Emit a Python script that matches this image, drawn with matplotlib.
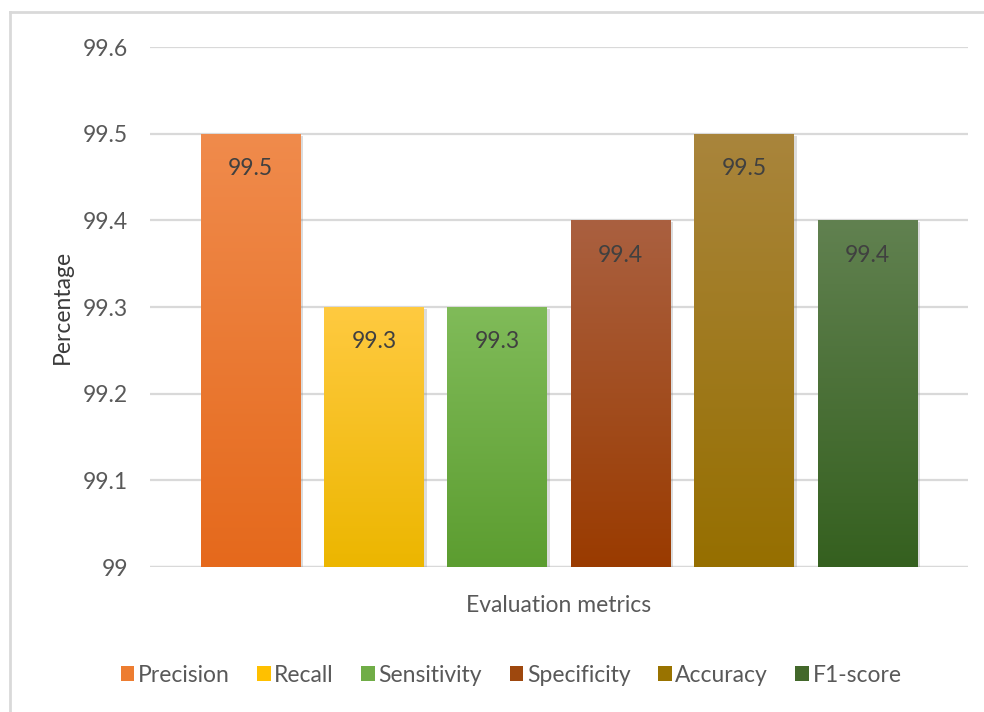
import numpy as np
import matplotlib
matplotlib.use("Agg")
import matplotlib.pyplot as plt
import matplotlib.patheffects as pe
from matplotlib.colors import to_rgb
from matplotlib.patches import Patch
from matplotlib.lines import Line2D

plt.rcParams['font.family'] = ['Lato', 'DejaVu Sans']

# Metric names and scores (%)
metrics = ["Precision", "Recall", "Sensitivity", "Specificity", "Accuracy", "F1-score"]
scores = [99.5, 99.3, 99.3, 99.4, 99.5, 99.4]
# Legend (solid) colours and gradient end colours for each bar
solid_colors = ["#ED7D31", "#FFC000", "#70AD47", "#9E480E", "#997300", "#43682B"]
grad_top = ["#F08B4C", "#FFCA40", "#80BB59", "#AA6040", "#A9853C", "#618150"]
grad_bottom = ["#E5691C", "#ECB600", "#5C9D30", "#9A3B00", "#966F00", "#35601F"]
yticks = [99.0, 99.1, 99.2, 99.3, 99.4, 99.5, 99.6]
ytick_labels = ["99", "99.1", "99.2", "99.3", "99.4", "99.5", "99.6"]

W, H = 984, 712
fig = plt.figure(figsize=(W / 100, H / 100), dpi=100)
ax = fig.add_axes([150 / W, 1 - 567 / H, (968 - 150) / W, (567 - 47) / H])

x = np.arange(len(metrics))
bar_w = 0.81
base = 99.0

for i, (v, c0, c1, cs) in enumerate(zip(scores, grad_top, grad_bottom, solid_colors)):
    bar = ax.bar(x[i], v - base, bottom=base, width=bar_w, color=cs, zorder=2,
                 label=metrics[i])[0]
    bar.set_path_effects([pe.SimplePatchShadow(offset=(2, -1.5), shadow_rgbFace=(0.55, 0.55, 0.55),
                                               alpha=0.3), pe.Normal()])
    top = np.array(to_rgb(c0))
    bot = np.array(to_rgb(c1))
    t = np.linspace(0, 1, 256)[:, None]
    grad = (top[None, :] * (1 - t) + bot[None, :] * t)[:, None, :]
    im = ax.imshow(grad, extent=[x[i] - bar_w / 2, x[i] + bar_w / 2, base, v],
                   aspect='auto', origin='upper', zorder=3, interpolation='bilinear')
    im.set_clip_path(bar)
    ax.annotate(f"{v:.1f}", xy=(x[i], v), xytext=(0, -25), textcoords='offset points',
                ha='center', va='center', fontsize=16.5, color='#404040', zorder=4)

half = (968 - 150) / 2 / 123.4
ax.set_xlim(2.5 - half, 2.5 + half)
ax.set_ylim(99.0, 99.6)
ax.set_yticks(yticks)
ax.set_yticklabels(ytick_labels)
ax.set_xticks([])
ax.tick_params(axis='y', length=0, pad=16, labelsize=16.5, labelcolor='#595959')
ax.grid(axis='y', color='#D9D9D9', linewidth=1.6, zorder=0)
ax.set_axisbelow(True)
for s in ax.spines.values():
    s.set_visible(False)
ax.axhline(99.0, color='#D9D9D9', linewidth=1.6, zorder=1)

ax.set_xlabel("Evaluation metrics", fontsize=16.5, color='#595959', labelpad=20)
fig.text(62 / W, 1 - 307 / H, "Percentage", rotation=90, ha='center', va='center',
         fontsize=16.5, color='#3A3A3A')

handles = [Patch(facecolor=c, edgecolor='none') for c in solid_colors]
fig.legend(handles, metrics, loc='center', bbox_to_anchor=(511 / W, 1 - 675 / H),
           ncol=6, frameon=False, fontsize=16.5, labelcolor='#595959',
           handlelength=0.6, handleheight=0.6, handletextpad=0.15, columnspacing=1.2)

# Chart frame
fig.add_artist(Line2D([10 / W, 1], [1 - 12 / H, 1 - 12 / H], color='#D9D9D9', linewidth=2))
fig.add_artist(Line2D([10 / W, 10 / W], [0, 1 - 12 / H], color='#D9D9D9', linewidth=2))

fig.savefig("out.png", dpi=100, facecolor='white')
